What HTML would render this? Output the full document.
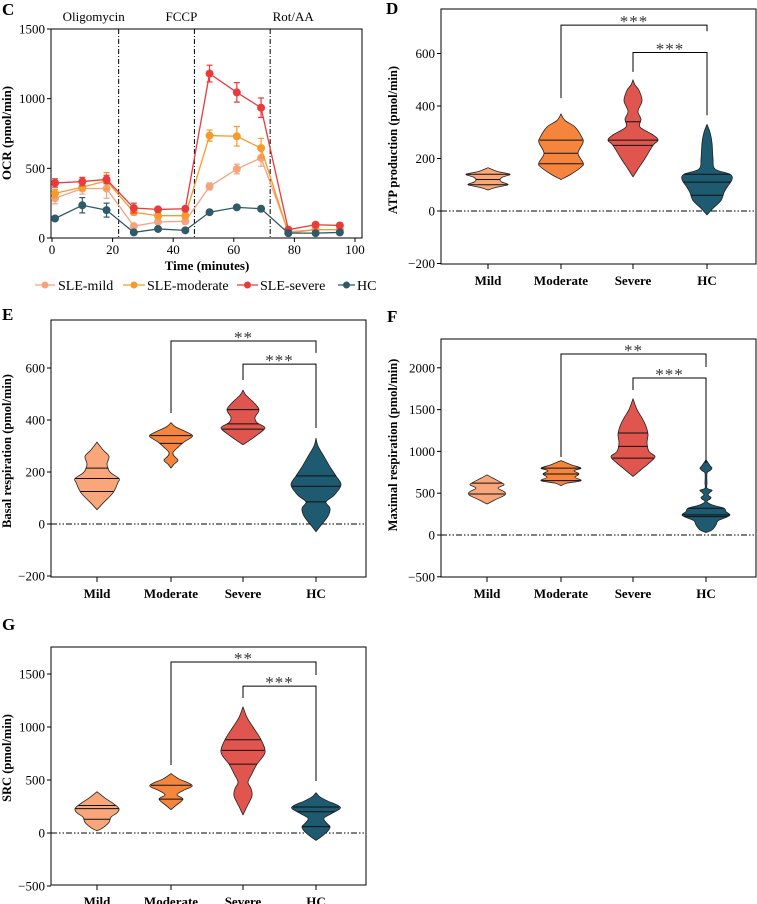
<!DOCTYPE html>
<html><head><meta charset="utf-8"><style>
html,body{margin:0;padding:0;background:#fff}
svg{display:block;font-family:"Liberation Serif",serif}
</style></head><body>
<svg id="fig" width="757" height="904" viewBox="0 0 757 904" xmlns="http://www.w3.org/2000/svg"></svg>
<script>
// ---- Panel C data ----
const cTimes=[1,10,18,27,35,44,52,61,69,78,87,95];
const cMild=[285,355,355,85,115,120,370,495,575,45,60,60];
const cMildErr=[40,40,70,15,15,20,25,35,60,10,10,10];
const cModerate=[320,365,410,185,160,160,735,730,645,35,60,60];
const cModerateErr=[30,25,60,20,20,20,40,70,70,10,10,10];
const cSevere=[395,405,420,215,205,210,1180,1045,935,60,95,90];
const cSevereErr=[30,30,30,35,15,15,60,70,70,10,10,10];
const cHC=[140,235,200,40,65,55,185,220,210,35,35,40];
const cHCErr=[10,55,50,10,10,10,10,10,10,8,8,8];
const cXTicks=[0,20,40,60,80,100];
const cYTicks=[0,500,1000,1500];
const cInjections=[22,47,72];
const cInjLabels=["Oligomycin","FCCP","Rot/AA"];
const categories=["Mild","Moderate","Severe","HC"];
// ---- Violin profiles: [value, half-width] ----
const dProfiles=[
 [[80,0],[90,8],[100,20],[110,14],[120,12],[130,15],[140,22],[150,10],[165,0]],
 [[120,0],[140,10],[170,21],[185,22],[220,17],[260,22],[280,21],[320,14],[345,4],[370,0]],
 [[130,0],[160,5],[200,12],[250,20],[270,25],[290,20],[320,7],[350,8],[380,5],[420,9],[460,6],[480,2],[500,0]],
 [[-15,0],[10,6],[40,14],[70,17],[90,20],[120,25],[140,23],[160,8],[200,6],[260,5],[300,3],[330,0]]];
const dQuartiles=[[100,120,140],[180,220,270],[250,270,340],[60,110,140]];
const eProfiles=[
 [[55,0],[80,6],[120,16],[160,21],[175,22],[200,13],[230,10],[260,12],[285,6],[315,0]],
 [[215,0],[230,3],[245,7],[262,3],[275,2],[295,7],[315,13],[335,21],[345,20],[360,12],[375,4],[390,0]],
 [[305,0],[320,6],[345,15],[370,22],[390,14],[410,12],[440,16],[470,10],[495,3],[515,0]],
 [[-30,0],[-5,5],[30,12],[60,14],[85,10],[110,18],[150,25],[185,20],[220,14],[260,8],[300,2],[330,0]]];
const eQuartiles=[[125,175,215],[310,340],[365,385,440],[85,145,185]];
const fProfiles=[
 [[370,0],[420,8],[480,18],[520,17],[560,11],[600,17],[630,14],[680,6],[720,0]],
 [[590,0],[620,6],[650,20],[690,14],[730,18],[770,13],[800,20],[840,10],[890,0]],
 [[700,0],[780,8],[880,18],[940,22],[1000,16],[1100,14],[1200,15],[1300,13],[1400,9],[1500,4],[1630,0]],
 [[30,0],[60,6],[120,10],[170,12],[210,20],[240,24],[280,20],[320,18],[360,6],[400,1],[430,4],[450,5],[480,2],[510,4],[535,6],[560,1],[620,1],[740,1],[770,4],[800,6],[830,4],[900,0]]];
const fQuartiles=[[490,620],[650,730,800],[920,1060,1220],[220,240,320]];
const gProfiles=[
 [[20,0],[50,6],[100,12],[150,14],[190,20],[230,22],[280,16],[330,8],[390,0]],
 [[220,0],[260,5],[320,12],[360,6],[400,12],[440,21],[470,18],[510,8],[560,0]],
 [[170,0],[250,4],[350,9],[420,8],[480,5],[560,9],[650,14],[760,22],[880,18],[1000,10],[1090,4],[1190,0]],
 [[-70,0],[-30,6],[20,12],[60,14],[100,10],[140,8],[180,15],[230,24],[260,22],[300,12],[340,4],[380,0]]];
const gQuartiles=[[130,230,260],[320,450],[650,780,880],[60,200,245]];
// brackets: [fromCat,toCat,barValue,leftLegEnd,rightLegEnd,label]
const dBrackets=[[1,3,708,430,685,"***"],[2,3,604,530,365,"***"]];
const eBrackets=[[1,3,704,427,658,"**"],[2,3,615,554,369,"***"]];
const fBrackets=[[1,3,2165,933,2010,"**"],[2,3,1878,1734,861,"***"]];
const gBrackets=[[1,3,1613,641,1490,"**"],[2,3,1386,1273,490,"***"]];
const dYTicks=[-200,0,200,400,600];
const eYTicks=[-200,0,200,400,600];
const fYTicks=[-500,0,500,1000,1500,2000];
const gYTicks=[-500,0,500,1000,1500];

const NS="http://www.w3.org/2000/svg";
const svg=document.getElementById('fig');
function el(tag,attrs,parent,text){
  const e=document.createElementNS(NS,tag);
  for(const k in attrs)e.setAttribute(k,attrs[k]);
  if(text!==undefined)e.textContent=text;
  (parent||svg).appendChild(e);return e;
}
function smoothPath(pts){
  let d='M'+pts[0][0]+','+pts[0][1];
  for(let i=0;i<pts.length-1;i++){
    const p0=pts[Math.max(i-1,0)],p1=pts[i],p2=pts[i+1],p3=pts[Math.min(i+2,pts.length-1)];
    const c1=[p1[0]+(p2[0]-p0[0])/6,p1[1]+(p2[1]-p0[1])/6];
    const c2=[p2[0]-(p3[0]-p1[0])/6,p2[1]-(p3[1]-p1[1])/6];
    d+=` C${c1[0]},${c1[1]} ${c2[0]},${c2[1]} ${p2[0]},${p2[1]}`;
  }
  return d;
}
const violinColors=["#f8a67a","#f5843c","#e0564e","#1e5a70"];

// ---- Panel C ----
(function(){
  const g=el('g',{});
  
  
  const L=51,T=29,R=362,B=238;
  const x=t=>52+t*3.03, y=v=>B-v*(B-T)/1500;
  const lab=el('text',{x:2,y:15,'font-size':17,'font-weight':'bold'},g,'C');
  
  const box=el('rect',{x:L,y:T,width:R-L,height:B-T,fill:'none',stroke:'#000','stroke-width':1},g);
  
  cXTicks.forEach(t=>{
    el('line',{x1:x(t),x2:x(t),y1:B,y2:B+4,stroke:'#000'},g);
    const tx=el('text',{x:x(t),y:B+16,'font-size':13,'text-anchor':'middle'},g,String(t));
    
  });
  cYTicks.forEach(v=>{
    el('line',{x1:L-4,x2:L,y1:y(v),y2:y(v),stroke:'#000'},g);
    const tx=el('text',{x:L-6,y:y(v)+4.5,'font-size':13,'text-anchor':'end'},g,String(v));
    
  });
  cInjections.forEach((t,i)=>{
    const ln=el('line',{x1:x(t),x2:x(t),y1:T,y2:B,stroke:'#000','stroke-dasharray':'5,2,1,2','stroke-width':1},g);
    
    const tx=el('text',{x:x(t)-(i==0?25:i==1?13:-23),y:21,'font-size':13,'text-anchor':'middle'},g,cInjLabels[i]);
    
  });
  const xt=el('text',{x:207,y:270,'font-size':13,'font-weight':'bold','text-anchor':'middle'},g,'Time (minutes)');
  
  const yt=el('text',{x:0,y:0,'font-size':13,'font-weight':'bold','text-anchor':'middle',transform:'translate(11,133) rotate(-90)'},g,'OCR (pmol/min)');
  
  const series=[[cMild,cMildErr,'#f5a27f','SLE-mild'],[cModerate,cModerateErr,'#f59a2c','SLE-moderate'],[cSevere,cSevereErr,'#e93a3c','SLE-severe'],[cHC,cHCErr,'#2f5a6a','HC']];
  const lx=[[35,55,58],[123,145,147],[237,258,260],[338,355,357]];
  series.forEach((s,si)=>{
    const sg=el('g',{},g);
    
    
    const pts=cTimes.map((t,i)=>x(t)+','+y(s[0][i])).join(' ');
    el('polyline',{points:pts,fill:'none',stroke:s[2],'stroke-width':1.3},sg);
    cTimes.forEach((t,i)=>{
      const v=s[0][i],e=s[1][i],cx=x(t);
      el('line',{x1:cx,x2:cx,y1:y(v+e),y2:y(v-e),stroke:s[2],'stroke-width':1.2},sg);
      el('line',{x1:cx-3,x2:cx+3,y1:y(v+e),y2:y(v+e),stroke:s[2],'stroke-width':1.2},sg);
      el('line',{x1:cx-3,x2:cx+3,y1:y(v-e),y2:y(v-e),stroke:s[2],'stroke-width':1.2},sg);
      const c=el('circle',{cx:cx,cy:y(v),r:4,fill:s[2]},sg);
      
    });
    const lg=el('g',{},g);
    
    
    el('line',{x1:lx[si][0],x2:lx[si][1],y1:285,y2:285,stroke:s[2],'stroke-width':1.3},lg);
    el('circle',{cx:(lx[si][0]+lx[si][1])/2,cy:285,r:3.5,fill:s[2]},lg);
    el('text',{x:lx[si][2],y:290,'font-size':14},lg,s[3]);
  });
})();

// ---- Violin panels ----
function violinPanel(name,letter,lpos,box,y0,ppu,cx,ticks,profiles,quartiles,brackets,ytitle,ytPos){
  const g=el('g',{});
  
  
  const [L,T,R,B]=box;
  const y=v=>y0-v*ppu;
  const lab=el('text',{x:lpos[0],y:lpos[1],'font-size':17,'font-weight':'bold'},g,letter);
  
  const rb=el('rect',{x:L,y:T,width:R-L,height:B-T,fill:'none',stroke:'#000','stroke-width':1},g);
  
  ticks.forEach(v=>{
    el('line',{x1:L-4,x2:L,y1:y(v),y2:y(v),stroke:'#000'},g);
    const tx=el('text',{x:L-6,y:y(v)+4.5,'font-size':13,'text-anchor':'end'},g,v<0?'\u2212'+(-v):String(v));
    
  });
  const zl=el('line',{x1:L,x2:R,y1:y(0),y2:y(0),stroke:'#000','stroke-dasharray':'6,2,1.5,2,1.5,2','stroke-width':1},g);
  
  categories.forEach((c,i)=>{
    el('line',{x1:cx[i],x2:cx[i],y1:B,y2:B+5,stroke:'#000'},g);
    const tx=el('text',{x:cx[i],y:B+21,'font-size':13,'font-weight':'bold','text-anchor':'middle'},g,c);
    
    const prof=profiles[i];
    const right=prof.map(p=>[cx[i]+p[1],y(p[0])]);
    const left=prof.slice().reverse().map(p=>[cx[i]-p[1],y(p[0])]);
    const vp=el('path',{d:smoothPath(right)+' L'+smoothPath(left).slice(1)+' Z',fill:violinColors[i],stroke:'#222','stroke-width':0.8,'stroke-linejoin':'round'},g);
    
    quartiles[i].forEach(q=>{
      let hw=0;
      for(let k=0;k<prof.length-1;k++){
        if(q>=prof[k][0]&&q<=prof[k+1][0]){const f=(q-prof[k][0])/(prof[k+1][0]-prof[k][0]);hw=prof[k][1]+f*(prof[k+1][1]-prof[k][1]);break;}
      }
      const ql=el('line',{x1:cx[i]-hw,x2:cx[i]+hw,y1:y(q),y2:y(q),stroke:'#111','stroke-width':1},g);
      
    });
  });
  brackets.forEach(b=>{
    const x1=cx[b[0]],x2=cx[b[1]];
    const bl=el('polyline',{points:`${x1},${y(b[3])} ${x1},${y(b[2])} ${x2},${y(b[2])} ${x2},${y(b[4])}`,fill:'none',stroke:'#000','stroke-width':1},g);
    
    const st=el('text',{x:(x1+x2)/2,y:y(b[2])+2,'font-size':17,'text-anchor':'middle',fill:'#333','letter-spacing':'1'},g,b[5]);
    
  });
  const yt=el('text',{x:0,y:0,'font-size':12.5,'font-weight':'bold','text-anchor':'middle',transform:`translate(${ytPos[0]},${ytPos[1]}) rotate(-90)`},g,ytitle);
  
}
violinPanel('d','D',[386,14],[441,9,756,264],211,52.5/200,[488,561,633,707],dYTicks,dProfiles,dQuartiles,dBrackets,'ATP production (pmol/min)',[397,140]);
violinPanel('e','E',[2,320],[51,320,366,577],524,52/200,[97,171,243,316],eYTicks,eProfiles,eQuartiles,eBrackets,'Basal respiration (pmol/min)',[11,451]);
violinPanel('f','F',[387,322],[441,339,756,577],535,41.8/500,[487,561,633,706],fYTicks,fProfiles,fQuartiles,fBrackets,'Maximal respiration (pmol/min)',[397,445]);
violinPanel('g','G',[2,630],[51,647,366,885],833,53/500,[97,171,243,316],gYTicks,gProfiles,gQuartiles,gBrackets,'SRC (pmol/min)',[11,758]);
</script>
</body></html>
